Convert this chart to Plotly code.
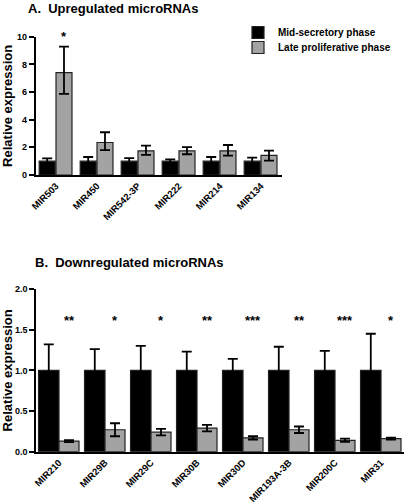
import plotly.graph_objects as go

# ---------------- data ----------------
up_categories = ["MIR503", "MIR450", "MIR542-3P", "MIR222", "MIR214", "MIR134"]
up_mid = [1.0, 1.0, 1.0, 1.0, 1.0, 1.0]
up_mid_err = [0.2, 0.3, 0.22, 0.13, 0.3, 0.25]
up_late = [7.4, 2.35, 1.75, 1.75, 1.75, 1.42]
up_late_err_plus = [1.88, 0.74, 0.37, 0.27, 0.42, 0.34]
up_late_err_minus = [1.54, 0.55, 0.3, 0.25, 0.35, 0.38]
up_stars = ["*", "", "", "", "", ""]

down_categories = ["MIR210", "MIR29B", "MIR29C", "MIR30B", "MIR30D",
                   "MIR193A-3B", "MIR200C", "MIR31"]
down_mid = [1.0, 1.0, 1.0, 1.0, 1.0, 1.0, 1.0, 1.0]
down_mid_err = [0.32, 0.26, 0.30, 0.23, 0.14, 0.29, 0.24, 0.45]
down_late = [0.13, 0.27, 0.24, 0.29, 0.17, 0.27, 0.14, 0.16]
down_late_err = [0.012, 0.08, 0.04, 0.04, 0.02, 0.04, 0.02, 0.012]
down_stars = ["**", "*", "*", "**", "***", "**", "***", "*"]

series_names = ["Mid-secretory phase", "Late proliferative phase"]
titles = ["A.  Upregulated microRNAs", "B.  Downregulated microRNAs"]
y_title = "Relative expression"

# ---------------- style ----------------
BLACK = "#000000"
GRAY = "#a3a3a3"
EDGE = "#222222"
FONT = "Liberation Sans, Arial, sans-serif"
W, H = 404, 504

fig = go.Figure()

# Panel A
fig.add_trace(go.Bar(
    x=up_categories, y=up_mid, name=series_names[0], legend="legend",
    marker=dict(color=BLACK, line=dict(color=EDGE, width=1.2)),
    width=0.39, offset=-0.41,
    error_y=dict(type="data", array=up_mid_err, color=BLACK, thickness=1.8, width=5),
    xaxis="x", yaxis="y",
))
fig.add_trace(go.Bar(
    x=up_categories, y=up_late, name=series_names[1], legend="legend2",
    marker=dict(color=GRAY, line=dict(color=EDGE, width=1.2)),
    width=0.39, offset=0.0,
    error_y=dict(type="data", array=up_late_err_plus, arrayminus=up_late_err_minus,
                 symmetric=False, color=BLACK, thickness=1.8, width=5),
    xaxis="x", yaxis="y",
))

# Panel B
fig.add_trace(go.Bar(
    x=down_categories, y=down_mid, name=series_names[0], showlegend=False,
    marker=dict(color=BLACK, line=dict(color=EDGE, width=1.2)),
    width=0.445, offset=-0.445,
    error_y=dict(type="data", array=down_mid_err, color=BLACK, thickness=1.8, width=5),
    xaxis="x2", yaxis="y2",
))
fig.add_trace(go.Bar(
    x=down_categories, y=down_late, name=series_names[1], showlegend=False,
    marker=dict(color=GRAY, line=dict(color=EDGE, width=1.2)),
    width=0.435, offset=0.0,
    error_y=dict(type="data", array=down_late_err, color=BLACK, thickness=1.8, width=5),
    xaxis="x2", yaxis="y2",
))

annotations = []
# significance stars (centered over the gray bars)
for i, s in enumerate(up_stars):
    if s:
        annotations.append(dict(x=i + 0.195, y=10.0, xref="x", yref="y", text=s,
                                showarrow=False, yanchor="middle",
                                font=dict(family=FONT, size=13, color=BLACK, weight="bold")))
for i, s in enumerate(down_stars):
    if s:
        annotations.append(dict(x=i + 0.22, y=1.615, xref="x2", yref="y2", text=s,
                                showarrow=False, yanchor="middle",
                                font=dict(family=FONT, size=13, color=BLACK, weight="bold")))
# panel titles
annotations.append(dict(x=26 / W, y=(H - 8) / H, xref="paper", yref="paper", text=titles[0],
                        showarrow=False, xanchor="left", yanchor="middle",
                        font=dict(family=FONT, size=13, color=BLACK, weight="bold")))
annotations.append(dict(x=33 / W, y=(H - 263) / H, xref="paper", yref="paper", text=titles[1],
                        showarrow=False, xanchor="left", yanchor="middle",
                        font=dict(family=FONT, size=13, color=BLACK, weight="bold")))

ytickfont = dict(family=FONT, size=9, color=BLACK, weight="bold")
xtickfont = dict(family=FONT, size=9.5, color=BLACK, weight="bold")
titlefont = dict(family=FONT, size=13, color=BLACK, weight="bold")
legendfont = dict(family=FONT, size=10, color=BLACK, weight="bold")

common_x = dict(type="category", showline=True, linecolor=BLACK, linewidth=1.5,
                ticks="", tickangle=-45, tickfont=xtickfont, showgrid=False,
                zeroline=False, fixedrange=True, automargin=False)
common_y = dict(showline=True, linecolor=BLACK, linewidth=1.5, ticks="outside",
                ticklen=5, tickwidth=1.5, tickcolor=BLACK, tickfont=ytickfont,
                showgrid=False, zeroline=False, automargin=False, fixedrange=True,
                title=dict(text=y_title, font=titlefont, standoff=4))

fig.update_layout(
    width=W, height=H,
    margin=dict(l=0, r=0, t=0, b=0, autoexpand=False),
    paper_bgcolor="white", plot_bgcolor="white",
    font=dict(family=FONT, color=BLACK),
    barmode="group",
    xaxis=dict(domain=[35.5 / W, 281.5 / W], anchor="y", range=[-0.5, 5.5], **common_x),
    yaxis=dict(domain=[(H - 175) / H, (H - 36.7) / H], anchor="x", range=[0, 10],
               dtick=2, **common_y),
    xaxis2=dict(domain=[36 / W, 1.0], anchor="y2", range=[-0.5, 7.5], **common_x),
    yaxis2=dict(domain=[(H - 451.7) / H, (H - 289) / H], anchor="x2", range=[0, 2],
                dtick=0.5, tickformat=".1f", **common_y),
    legend=dict(x=238 / W, y=(H - 18) / H, xanchor="left", yanchor="top",
                font=legendfont, bgcolor="rgba(0,0,0,0)", itemwidth=30),
    legend2=dict(x=238 / W, y=(H - 33) / H, xanchor="left", yanchor="top",
                 font=legendfont, bgcolor="rgba(0,0,0,0)", itemwidth=30),
    annotations=annotations,
    showlegend=True,
)

fig.write_html("out.html", config={"displayModeBar": False},
               post_script="document.body.style.margin='0';document.body.style.overflow='hidden';")
